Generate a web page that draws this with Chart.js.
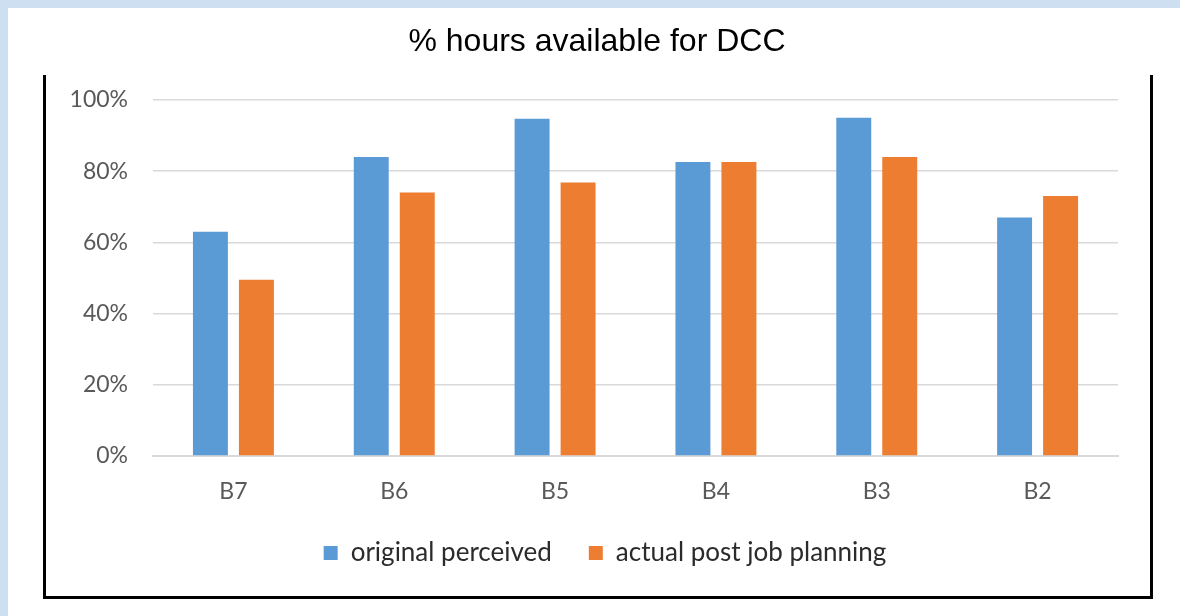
<!DOCTYPE html>
<html>
<head>
<meta charset="utf-8">
<script src="https://cdn.jsdelivr.net/npm/chart.js@4"></script>
<style>
  html, body { margin:0; padding:0; width:1183px; height:616px; overflow:hidden; background:#ffffff; }
  #wrap { position:relative; width:1183px; height:616px; }
  .strip { position:absolute; background:#cddff0; }
  .bd { position:absolute; background:#000; }
  canvas { position:absolute; left:0; top:0; }
</style>
</head>
<body>
<div id="wrap">
  <div class="strip" style="left:0;top:0;width:1180px;height:8px;"></div>
  <div class="strip" style="left:0;top:0;width:8px;height:616px;"></div>
  <div class="bd" style="left:43px;top:75px;width:3px;height:524px;"></div>
  <div class="bd" style="left:43px;top:596px;width:1110px;height:3px;"></div>
  <div class="bd" style="left:1150px;top:75px;width:3px;height:524px;"></div>
  <canvas id="c" width="1183" height="616"></canvas>
</div>
<script>
const categories = ["B7", "B6", "B5", "B4", "B3", "B2"];
const originalPerceived = [63, 84, 94.7, 82.6, 95, 67];
const actualPostJobPlanning = [49.5, 74, 76.8, 82.6, 84, 73];
const yTicks = [0, 20, 40, 60, 80, 100];

const legendShift = {
  id: 'legendShift',
  afterLayout(chart) {
    if (chart.legend) { chart.legend.left += 8; chart.legend.right += 8; }
  }
};

const ctx = document.getElementById('c').getContext('2d');
new Chart(ctx, {
  type: 'bar',
  plugins: [legendShift],
  data: {
    labels: categories,
    datasets: [
      { label: 'original perceived', data: originalPerceived, backgroundColor: '#5b9bd5', borderWidth: 0, yAxisID: 'y' },
      { label: 'actual post job planning', data: actualPostJobPlanning, backgroundColor: '#ed7d31', borderWidth: 0, yAxisID: 'y' }
    ]
  },
  options: {
    responsive: false,
    animation: false,
    devicePixelRatio: 1,
    categoryPercentage: 0.572,
    barPercentage: 0.76,
    layout: { padding: { left: 60, right: 49, top: 0, bottom: 40 } },
    plugins: {
      title: {
        display: true,
        text: '% hours available for DCC',
        color: '#000000',
        font: { family: 'Liberation Sans', size: 32, weight: 'normal' },
        padding: { top: 23, bottom: 38.6 }
      },
      legend: {
        position: 'bottom',
        labels: {
          color: '#2b2b2b',
          font: { family: 'Lato', size: 26 },
          boxWidth: 14,
          boxHeight: 14,
          padding: 37
        }
      },
      tooltip: { enabled: false }
    },
    scales: {
      x: {
        afterFit: (s) => { s.height = 47; },
        grid: { display: false, drawTicks: false },
        border: { display: true, color: '#d9d9d9', width: 2 },
        ticks: { color: '#595959', font: { family: 'Lato', size: 23 }, padding: 22 }
      },
      y: {
        position: 'left',
        min: 0, max: 100,
        afterFit: (s) => { s.width = 93; },
        afterBuildTicks: (s) => { s.ticks = yTicks.map(v => ({ value: v })); },
        grid: { color: '#d9d9d9', lineWidth: 1.5, drawTicks: false },
        border: { display: false },
        ticks: { color: '#595959', font: { family: 'Lato', size: 23 }, padding: 25, callback: (v) => v + '%' }
      },
      yRight: {
        position: 'right',
        min: 0, max: 100,
        afterFit: (s) => { s.width = 16; },
        grid: { display: false, drawTicks: false },
        border: { display: false },
        ticks: { display: false }
      }
    }
  }
});
</script>
</body>
</html>
